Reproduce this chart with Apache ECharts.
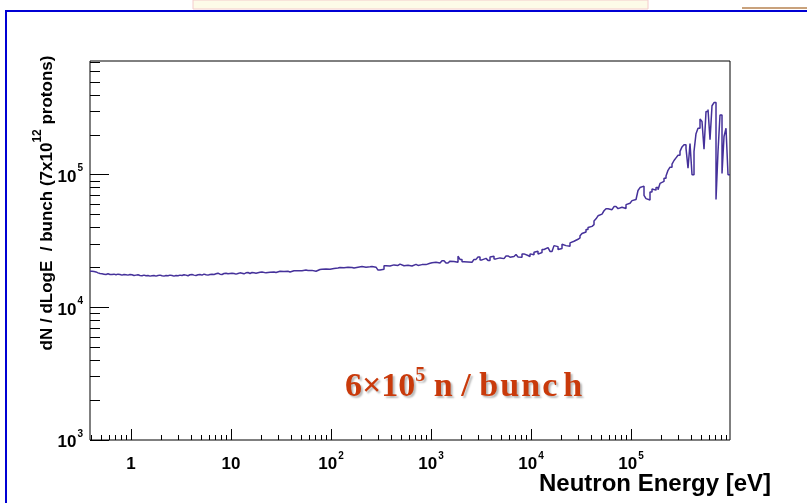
<!DOCTYPE html>
<html><head><meta charset="utf-8">
<script src="https://cdn.jsdelivr.net/npm/echarts@6/dist/echarts.min.js"></script>
<style>html,body{margin:0;padding:0;background:#fff;}#c{width:807px;height:503px;}</style>
</head><body><div id="c"></div>
<script>
// ---- data ----
const binLogStart = -0.41;     // log10(E) of first bin's lower edge
const binStep = 0.02;          // log10 bin width
const counts = [
 18700,18600,18500,18200,18000,17900,17800,17700,17900,17700,
 17700,17800,17600,17800,17700,17500,17700,17600,17500,17700,
 17600,17400,17500,17600,17400,17300,17500,17300,17400,17200,
 17300,17400,17200,17400,17500,17300,17200,17400,17300,17500,
 17400,17200,17400,17300,17500,17400,17600,17500,17300,17600,
 17700,17500,17400,17600,17700,17500,17800,17600,17500,17700,
 17800,17700,17900,18100,17800,17700,18000,18100,17900,18000,
 18100,18000,17800,18000,18200,18100,17900,18200,18300,18000,
 18300,18200,18100,18000,18400,18500,18300,18200,18500,18400,
 18600,18500,18300,18500,18700,18800,18600,18900,18700,18500,
 18800,18900,19100,18900,18700,18900,19300,19100,19000,19300,
 19000,19200,18700,18600,19300,19400,19200,19500,19600,19400,
 19700,19600,19400,19800,20000,19700,19900,20200,20100,19800,
 20000,19800,20200,20100,19900,20300,20400,20100,19800,20200,
 20300,20500,20100,19900,19100,18800,19400,20600,20800,20500,
 20600,20900,20400,20700,21200,20900,20600,21000,20800,21200,
 20500,20800,21100,20700,20600,21000,21300,21000,21200,21500,
 21700,21300,21900,21500,21600,22000,22500,22100,21600,22300,
 22800,22200,22500,21900,24300,23000,22100,22600,22000,21600,
 21900,22400,23000,23500,24000,22800,22500,23400,23100,22600,
 24000,24300,23200,22700,23600,24100,23300,22800,24400,23900,
 23700,24200,25000,24500,24000,23900,25300,25600,24600,24200,
 25300,24900,26000,26500,25200,25900,27300,26800,28200,27600,
 26400,27000,29200,28700,27300,27800,29900,29200,28400,28900,
 30600,31500,32000,32600,33400,34600,36000,37000,38600,40000,
 40800,42000,44800,46500,49000,50500,52000,53500,55400,56500,
 54500,55800,57500,56300,55500,56800,57800,55600,59500,61000,
 62500,63800,65000,67000,76000,80000,82000,70000,66000,64500,
 74000,78000,76500,80000,77000,86000,89000,94000,98000,108000,
 114000,120000,128000,134000,140000,150000,162000,168000,158000,112000,
 172000,100000,150000,204000,224000,263000,252000,156000,299000,310000,
 184000,331000,350000,65000,150000,282000,102000,194000,224000,100000
];
const xRange = [0.389, 977000];
const yRange = [1000, 720000];
const xMajorTicks = [1, 10, 100, 1000, 10000, 100000];
const yMajorTicks = [1000, 10000, 100000];
const xTitle = 'Neutron Energy [eV]';
const annotation = ['6×10', '5', ' n / ', 'bunch'];

// ---- build ----
const hist = counts.map((v, i) => [Math.pow(10, binLogStart + i * binStep), v]);
hist.push([Math.pow(10, binLogStart + counts.length * binStep), counts[counts.length - 1]]);

function minorTicks(range) {
  const out = [];
  for (let k = -2; k <= 7; k++) for (let m = 2; m <= 9; m++) {
    const v = m * Math.pow(10, k);
    if (v > range[0] && v < range[1]) out.push(v);
  }
  return out;
}
const xMinorTicks = minorTicks(xRange);
const yMinorTicks = minorTicks(yRange);

const FONT = '"Liberation Sans", Arial, sans-serif';
const SERIF = '"Liberation Serif", "Times New Roman", serif';
const labelRich = {
  b: {fontSize: 17, fontWeight: 'bold', fontFamily: FONT, color: '#000', lineHeight: 22, verticalAlign: 'bottom'},
  s: {fontSize: 10, fontWeight: 'bold', fontFamily: FONT, color: '#000', lineHeight: 22, verticalAlign: 'top', padding: [0, 0, 0, 1]}
};
function powLabel(v, plainSmall) {
  const e = Math.round(Math.log10(v));
  if (plainSmall && e === 0) return '{b|1}';
  if (plainSmall && e === 1) return '{b|10}';
  return '{b|10}{s|' + e + '}';
}
const shadow = {textShadowColor: 'rgba(0,0,0,0.28)', textShadowOffsetX: 2, textShadowOffsetY: 2, textShadowBlur: 2};
const redText = Object.assign({fontWeight: 'bold', fontFamily: SERIF, fill: '#c93a0b', lineHeight: 38}, shadow);

const chart = echarts.init(document.getElementById('c'), null, {renderer: 'canvas'});
chart.setOption({
  animation: false,
  backgroundColor: '#fff',
  grid: {left: 90, top: 61, right: 77, bottom: 63, show: true, borderColor: '#000', borderWidth: 1, backgroundColor: 'transparent'},
  xAxis: [
    {type: 'log', min: xRange[0], max: xRange[1], position: 'bottom',
     axisLine: {show: false}, splitLine: {show: false},
     axisTick: {show: true, inside: true, length: 11, customValues: xMajorTicks, lineStyle: {color: '#000', width: 1}},
     axisLabel: {customValues: xMajorTicks, formatter: v => powLabel(v, true), rich: labelRich, margin: 11}},
    {type: 'log', min: xRange[0], max: xRange[1], position: 'bottom',
     axisLine: {show: false}, splitLine: {show: false}, axisLabel: {show: false},
     axisTick: {show: true, inside: true, length: 5, customValues: xMinorTicks, lineStyle: {color: '#000', width: 1}}}
  ],
  yAxis: [
    {type: 'log', min: yRange[0], max: yRange[1], position: 'left',
     axisLine: {show: false}, splitLine: {show: false},
     axisTick: {show: true, inside: true, length: 19, customValues: yMajorTicks, lineStyle: {color: '#000', width: 1}},
     axisLabel: {customValues: yMajorTicks, formatter: v => powLabel(v, false), rich: labelRich, margin: 7}},
    {type: 'log', min: yRange[0], max: yRange[1], position: 'left',
     axisLine: {show: false}, splitLine: {show: false}, axisLabel: {show: false},
     axisTick: {show: true, inside: true, length: 10, customValues: yMinorTicks, lineStyle: {color: '#000', width: 1}}}
  ],
  series: [{
    type: 'line', step: 'end', data: hist, xAxisIndex: 0, yAxisIndex: 0,
    showSymbol: false, symbol: 'none', clip: true,
    lineStyle: {color: '#45319a', width: 1.5}
  }],
  graphic: [
    {type: 'rect', shape: {x: 193, y: 0, width: 455, height: 9}, style: {fill: '#fdfbe8', stroke: '#f4cccc', lineWidth: 1}, silent: true},
    {type: 'rect', shape: {x: 742, y: 7, width: 65, height: 2}, style: {fill: '#c9a27c'}, silent: true},
    {type: 'rect', shape: {x: 5, y: 10, width: 802, height: 2}, style: {fill: '#0000d4'}, silent: true},
    {type: 'rect', shape: {x: 5, y: 10, width: 2, height: 493}, style: {fill: '#0000d4'}, silent: true},
    {type: 'text', x: 44, y: 203, rotation: Math.PI / 2, silent: true,
     style: {text: '{a|dN / dLogE  / bunch (7x10}{s|12}{a| protons)}', align: 'center', verticalAlign: 'middle',
       rich: {a: {fontSize: 17, fontWeight: 'bold', fontFamily: FONT, fill: '#000', lineHeight: 24, verticalAlign: 'bottom'},
              s: {fontSize: 12, fontWeight: 'bold', fontFamily: FONT, fill: '#000', lineHeight: 24, verticalAlign: 'top'}}}},
    {type: 'text', x: 771, y: 484, silent: true,
     style: {text: xTitle, align: 'right', verticalAlign: 'middle', fontSize: 24, fontWeight: 'bold', fontFamily: FONT, fill: '#000'}},
    {type: 'text', x: 345, y: 385, silent: true,
     style: {text: '{a|' + annotation[0] + '}{s|' + annotation[1] + '}{a|' + annotation[2] + '}' +
        annotation[3].split('').map(ch => '{l|' + ch + '}').join(''),
       align: 'left', verticalAlign: 'middle',
       rich: {
         a: Object.assign({fontSize: 34, verticalAlign: 'bottom'}, redText),
         l: Object.assign({fontSize: 34, verticalAlign: 'bottom', width: 21, align: 'left'}, redText),
         s: Object.assign({fontSize: 20, verticalAlign: 'top'}, redText)
       }}}
  ]
});
</script></body></html>
